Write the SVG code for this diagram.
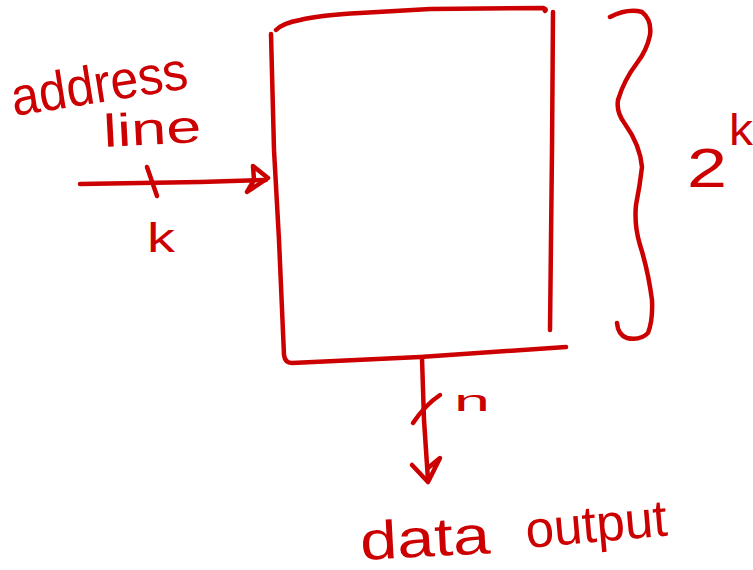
<svg xmlns="http://www.w3.org/2000/svg" width="753" height="570" viewBox="0 0 753 570">
  <defs>
    <style>
      .ink { fill: none; stroke: #cc0000; stroke-width: 4.5; stroke-linecap: round; stroke-linejoin: round; }
      .lbl { fill: #cc0000; font-family: "Liberation Sans", "DejaVu Sans", sans-serif; }
    </style>
  </defs>
  <rect width="753" height="570" fill="#ffffff"/>

  <!-- memory block -->
  <g id="memory">
    <path class="ink" d="M271,34 L274,150 L279,240 L284,355 Q285,363 292,363 L420,357 L566,347"/>
    <path class="ink" d="M276,30 Q283,23 300,20 Q320,15 360,13 L430,9 L543,8 Q547,9 545,11"/>
    <path class="ink" d="M553,12 L552,150 L550,330"/>
  </g>

  <!-- 2^k brace -->
  <g id="size-brace">
    <path class="ink" d="M610,17 Q628,8 642,12 Q652,20 650,35 Q647,50 637,63 Q624,80 618,100 Q616,112 625,124 Q640,145 642,167 Q640,185 636,205 Q634,225 640,245 Q648,270 652,300 Q653,320 648,333 Q640,341 627,338 Q618,335 617,323"/>
    <text class="lbl" x="687" y="187" font-size="56" textLength="40" lengthAdjust="spacingAndGlyphs">2</text>
    <text class="lbl" x="729" y="145" font-size="44" textLength="24" lengthAdjust="spacingAndGlyphs">k</text>
  </g>

  <!-- connectors -->
  <g id="connectors">
    <!-- address bus in -->
    <path class="ink" d="M80,184 L200,182 L266,180"/>
    <path class="ink" d="M253,166 L268,178 L247,192 L254,180 Z"/>
    <path class="ink" d="M147,167 L157,196"/>
    <!-- data bus out -->
    <path class="ink" d="M422,358 L424,420 L428,480"/>
    <path class="ink" d="M412,465 L428,482 L440,458 L428,468"/>
    <path class="ink" d="M413,423 Q425,405 440,395"/>
  </g>

  <!-- labels -->
  <g id="labels">
    <text class="lbl" font-size="54" transform="translate(14,116) rotate(-9)" textLength="178" lengthAdjust="spacingAndGlyphs">address</text>
    <text class="lbl" font-size="46" transform="translate(104,147) rotate(-3)" textLength="98" lengthAdjust="spacingAndGlyphs">line</text>
    <text class="lbl" x="147" y="252" font-size="40" textLength="28" lengthAdjust="spacingAndGlyphs">k</text>
    <text class="lbl" x="454" y="411" font-size="30" textLength="36" lengthAdjust="spacingAndGlyphs">n</text>
    <text class="lbl" font-size="54" transform="translate(361,560) rotate(-3)" textLength="130" lengthAdjust="spacingAndGlyphs">data</text>
    <text class="lbl" font-size="52" transform="translate(527,548) rotate(-5)" textLength="142" lengthAdjust="spacingAndGlyphs">output</text>
  </g>
</svg>
